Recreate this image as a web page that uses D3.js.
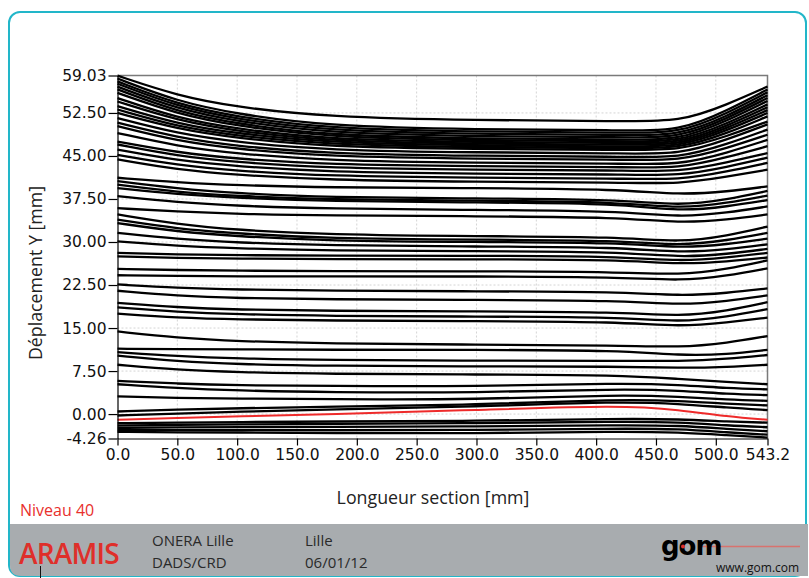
<!DOCTYPE html>
<html>
<head>
<meta charset="utf-8">
<script src="https://cdn.jsdelivr.net/npm/d3@7"></script>
<style>
  html, body { margin: 0; padding: 0; background: #ffffff; }
  svg { display: block; }
  .axis text { font-family: "DejaVu Sans", sans-serif; font-size: 15.5px; fill: #111; }
  .axis path, .axis line { stroke: #000; stroke-width: 1.2; }
</style>
</head>
<body>
<svg class="chart"></svg>
<script>
'use strict';

var CHART_WIDTH = 809;
var CHART_HEIGHT = 578;
var PLOT = { left: 117.5, right: 767.5, top: 75.5, bottom: 438.5 };

// positions along the section where each curve was read [mm]
var X_POSITIONS = [0, 50, 100, 175, 300, 420, 470, 510, 543.2];

// upper curves (top cluster)
var UPPER_CURVES = [
    [59.0, 55.5, 53.5, 51.8, 51.2, 51.1, 50.9, 54.0, 57.1],
    [58.5, 54.5, 52.3, 50.2, 49.6, 49.5, 49.3, 53.0, 56.6],
    [58.0, 54.0, 51.8, 49.8, 49.2, 49.1, 48.9, 52.5, 56.1],
    [57.6, 53.6, 51.4, 49.4, 48.8, 48.7, 48.5, 52.0, 55.6],
    [57.1, 53.2, 51.0, 49.0, 48.4, 48.3, 48.1, 51.6, 55.1],
    [56.6, 52.7, 50.6, 48.6, 48.0, 47.9, 47.7, 51.2, 54.6],
    [56.0, 52.3, 50.2, 48.3, 47.7, 47.6, 47.4, 50.7, 54.0],
    [55.1, 51.6, 49.7, 47.9, 47.4, 47.3, 47.1, 50.3, 53.5],
    [54.5, 51.2, 49.3, 47.6, 47.1, 47.0, 46.8, 49.9, 53.0],
    [53.7, 50.6, 48.9, 47.3, 46.8, 46.7, 46.5, 49.5, 52.5],
    [53.1, 50.1, 48.5, 47.0, 46.5, 46.4, 46.2, 49.0, 51.9],
    [52.5, 49.7, 48.1, 46.6, 46.2, 46.1, 45.9, 48.5, 51.0],
    [51.6, 48.9, 47.4, 46.0, 45.6, 45.5, 45.2, 47.9, 50.5],
    [50.8, 48.2, 46.7, 45.4, 45.0, 44.9, 44.6, 47.1, 49.6],
    [50.2, 47.6, 46.2, 44.9, 44.5, 44.4, 44.1, 46.4, 48.7],
    [49.0, 46.7, 45.4, 44.2, 43.8, 43.7, 43.4, 45.6, 47.8],
    [47.5, 45.6, 44.5, 43.5, 43.2, 43.1, 42.8, 44.8, 46.7],
    [47.0, 45.0, 43.9, 42.9, 42.6, 42.5, 42.2, 43.9, 45.5],
    [46.1, 44.2, 43.2, 42.2, 41.9, 41.8, 41.5, 43.1, 44.7],
    [45.2, 43.4, 42.4, 41.5, 41.2, 41.1, 40.8, 42.3, 43.8],
    [44.4, 42.6, 41.7, 40.8, 40.5, 40.4, 40.1, 41.4, 42.6]
];

// middle curves
var MIDDLE_CURVES = [
    [41.2, 40.4, 39.9, 39.5, 39.4, 39.2, 38.2, 38.8, 39.7],
    [40.6, 39.3, 38.5, 37.8, 37.6, 37.4, 36.3, 37.4, 38.9],
    [40.0, 38.7, 38.0, 37.4, 37.2, 37.0, 35.8, 36.8, 38.1],
    [39.4, 38.3, 37.7, 37.1, 36.9, 36.7, 35.3, 36.2, 37.3],
    [38.0, 36.9, 36.3, 35.8, 35.6, 35.4, 34.3, 35.1, 36.2],
    [35.9, 35.3, 34.9, 34.6, 34.5, 34.3, 33.3, 33.9, 34.8],
    [34.8, 33.1, 32.1, 31.3, 31.0, 30.9, 29.9, 31.1, 32.7],
    [33.9, 32.3, 31.5, 30.6, 30.4, 30.3, 29.3, 30.3, 31.6],
    [33.3, 31.8, 31.0, 30.2, 30.0, 29.9, 28.9, 29.6, 30.6],
    [31.6, 30.5, 29.9, 29.4, 29.2, 29.1, 28.1, 28.7, 29.6],
    [30.1, 29.3, 28.9, 28.5, 28.4, 28.3, 27.3, 27.9, 28.8],
    [28.1, 27.8, 27.7, 27.6, 27.6, 27.5, 26.6, 27.3, 28.1],
    [27.5, 27.2, 27.1, 27.0, 27.0, 26.9, 26.1, 26.6, 27.3],
    [25.3, 25.1, 25.0, 24.9, 24.9, 24.8, 24.2, 25.3, 26.8],
    [24.2, 24.1, 24.0, 24.0, 24.0, 23.9, 23.2, 24.1, 25.4],
    [22.6, 22.0, 21.7, 21.5, 21.4, 21.3, 20.6, 21.1, 21.9],
    [21.5, 20.6, 20.2, 20.0, 19.9, 19.8, 19.0, 19.7, 20.7],
    [19.4, 18.6, 18.2, 18.0, 17.9, 17.8, 17.0, 18.0, 19.5],
    [18.6, 17.8, 17.4, 17.1, 17.0, 16.9, 16.0, 17.0, 18.3],
    [17.5, 16.8, 16.5, 16.3, 16.2, 16.1, 15.2, 16.0, 16.8]
];

// lower curves (near the base)
var LOWER_CURVES = [
    [14.4, 13.3, 12.7, 12.3, 12.1, 12.0, 11.6, 12.4, 13.6],
    [11.4, 11.3, 11.3, 11.2, 11.2, 11.1, 10.2, 10.4, 11.2],
    [10.8, 10.1, 9.7, 9.4, 9.3, 9.3, 9.2, 9.6, 10.3],
    [10.2, 9.2, 8.7, 8.4, 8.3, 8.3, 8.0, 8.2, 8.6],
    [8.6, 7.7, 7.3, 7.0, 6.9, 6.8, 6.1, 5.6, 5.2],
    [5.8, 5.3, 5.0, 4.9, 4.8, 5.4, 5.1, 4.5, 4.3],
    [5.2, 4.5, 4.1, 3.8, 3.7, 4.4, 4.1, 3.5, 3.3],
    [3.1, 2.8, 2.7, 2.6, 2.5, 3.4, 3.0, 2.5, 2.3],
    [0.45, 0.8, 1.0, 1.3, 1.6, 2.6, 2.3, 1.8, 1.5],
    [-0.25, 0.1, 0.4, 0.8, 1.3, 2.2, 1.8, 1.1, 0.7],
    [-1.6, -1.5, -1.4, -1.3, -1.2, -0.8, -0.9, -1.3, -1.5],
    [-2.0, -1.9, -1.8, -1.7, -1.6, -1.3, -1.4, -2.0, -2.3],
    [-2.4, -2.3, -2.3, -2.2, -2.2, -1.9, -2.0, -2.6, -3.0],
    [-2.8, -2.8, -2.8, -2.8, -2.8, -2.5, -2.6, -3.2, -3.6],
    [-3.1, -3.2, -3.2, -3.3, -3.4, -3.0, -3.2, -3.7, -4.1]
];

// highlighted curve "Niveau 40"
var LEVEL_CURVE = [-1.0, -0.65, -0.4, -0.05, 0.7, 1.55, 0.75, -0.45, -1.0];

var X_TICKS = [0, 50, 100, 150, 200, 250, 300, 350, 400, 450, 500, 543.2];
var Y_TICKS = [-4.26, 0, 7.5, 15, 22.5, 30, 37.5, 45, 52.5, 59.03];

var svg = d3.select('.chart')
    .attr('width', CHART_WIDTH)
    .attr('height', CHART_HEIGHT);

var xScale = d3.scaleLinear().domain([0, 543.2]).range([PLOT.left, PLOT.right]);
var yScale = d3.scaleLinear().domain([-4.26, 59.03]).range([PLOT.bottom, PLOT.top]);

renderFrame(svg);
renderGrid(svg, xScale, yScale);
renderCurves(svg, xScale, yScale);
renderAxes(svg, xScale, yScale);
renderFooter(svg);

/**
 * Rounded cyan frame around the whole sheet
 */
function renderFrame(svg) {
    svg.append('rect')
        .attr('x', 9).attr('y', 12)
        .attr('width', 797).attr('height', 564)
        .attr('rx', 11).attr('ry', 11)
        .attr('fill', '#ffffff')
        .attr('stroke', '#22b6c9')
        .attr('stroke-width', 2);
}

/**
 * Dotted grid lines behind the curves
 */
function renderGrid(svg, xScale, yScale) {
    var grid = svg.append('g').attr('class', 'grid');
    grid.selectAll('line.vx')
        .data(X_TICKS.slice(1, -1))
        .enter().append('line')
        .attr('x1', function (d) { return xScale(d); })
        .attr('x2', function (d) { return xScale(d); })
        .attr('y1', PLOT.top).attr('y2', PLOT.bottom)
        .attr('stroke', '#d4d4d4').attr('stroke-dasharray', '2,2');
    grid.selectAll('line.hy')
        .data(Y_TICKS.slice(1, -1))
        .enter().append('line')
        .attr('y1', function (d) { return yScale(d); })
        .attr('y2', function (d) { return yScale(d); })
        .attr('x1', PLOT.left).attr('x2', PLOT.right)
        .attr('stroke', '#d4d4d4').attr('stroke-dasharray', '2,2');

    // top and right borders of the plot
    grid.append('path')
        .attr('d', 'M' + PLOT.left + ',' + PLOT.top + 'H' + PLOT.right + 'V' + PLOT.bottom)
        .attr('fill', 'none')
        .attr('stroke', '#7a7a7a')
        .attr('stroke-width', 1.5);
}

/**
 * Draw all section curves, then the highlighted one on top
 */
function renderCurves(svg, xScale, yScale) {
    var line = d3.line()
        .x(function (d, i) { return xScale(X_POSITIONS[i]); })
        .y(function (d) { return yScale(d); })
        .curve(d3.curveBasis);

    var curves = UPPER_CURVES.concat(MIDDLE_CURVES).concat(LOWER_CURVES);

    svg.append('g')
        .attr('class', 'curves')
        .selectAll('path')
        .data(curves)
        .enter().append('path')
        .attr('d', line)
        .attr('fill', 'none')
        .attr('stroke', '#000')
        .attr('stroke-width', 2.3);

    svg.append('path')
        .datum(LEVEL_CURVE)
        .attr('d', line)
        .attr('fill', 'none')
        .attr('stroke', '#ee2a2a')
        .attr('stroke-width', 2);
}

/**
 * Axes, tick labels and titles
 */
function renderAxes(svg, xScale, yScale) {
    var xAxis = d3.axisBottom(xScale)
        .tickValues(X_TICKS)
        .tickFormat(function (d) { return d.toFixed(1); })
        .tickSize(7)
        .tickSizeOuter(0)
        .tickPadding(3);
    var yAxis = d3.axisLeft(yScale)
        .tickValues(Y_TICKS)
        .tickFormat(function (d) { return d.toFixed(2); })
        .tickSize(9)
        .tickSizeOuter(0)
        .tickPadding(2);

    svg.append('g')
        .attr('class', 'x axis')
        .attr('transform', 'translate(0,' + PLOT.bottom + ')')
        .call(xAxis);

    svg.append('g')
        .attr('class', 'y axis')
        .attr('transform', 'translate(' + PLOT.left + ',0)')
        .call(yAxis);

    svg.append('text')
        .attr('x', 433).attr('y', 504)
        .attr('text-anchor', 'middle')
        .style('font-family', '"Open Sans", sans-serif')
        .style('font-size', '17.8px')
        .style('fill', '#222')
        .text('Longueur section [mm]');

    svg.append('text')
        .attr('transform', 'translate(42,' + 273 + ') rotate(-90)')
        .attr('text-anchor', 'middle')
        .style('font-family', '"Open Sans", sans-serif')
        .style('font-size', '17.8px')
        .style('fill', '#222')
        .text('Déplacement Y [mm]');

    svg.append('text')
        .attr('x', 20).attr('y', 516)
        .style('font-family', '"Open Sans", sans-serif')
        .style('font-size', '16px')
        .style('fill', '#e8302c')
        .text('Niveau 40');
}

/**
 * Grey footer band with project information
 */
function renderFooter(svg) {
    var footer = svg.append('g').attr('class', 'footer');

    footer.append('path')
        .attr('d', 'M10,524H808V576H21Q10,576 10,565Z')
        .attr('fill', '#a8acaf');

    footer.append('text')
        .attr('x', 19).attr('y', 564)
        .style('font-family', '"Open Sans", sans-serif')
        .style('font-size', '28px')
        .style('font-weight', '600')
        .style('letter-spacing', '-0.8px')
        .style('fill', '#df2f2a')
        .text('ARAMIS');

    footer.append('line')
        .attr('x1', 40.5).attr('x2', 40.5)
        .attr('y1', 566).attr('y2', 578)
        .attr('stroke', '#111').attr('stroke-width', 1);

    var info = [
        { x: 152, y: 546, t: 'ONERA Lille' },
        { x: 152, y: 568, t: 'DADS/CRD' },
        { x: 305, y: 546, t: 'Lille' },
        { x: 305, y: 568, t: '06/01/12' }
    ];
    footer.selectAll('text.info')
        .data(info)
        .enter().append('text')
        .attr('class', 'info')
        .attr('x', function (d) { return d.x; })
        .attr('y', function (d) { return d.y; })
        .style('font-family', '"Open Sans", sans-serif')
        .style('font-size', '15px')
        .style('fill', '#2a2a2a')
        .text(function (d) { return d.t; });

    footer.append('line')
        .attr('x1', 700).attr('x2', 800)
        .attr('y1', 546.5).attr('y2', 546.5)
        .attr('stroke', '#d8726e').attr('stroke-width', 1.5);

    footer.append('text')
        .attr('x', 661).attr('y', 555)
        .style('font-family', '"DejaVu Sans", sans-serif')
        .style('font-size', '26px')
        .style('font-weight', 'bold')
        .style('letter-spacing', '-1px')
        .style('fill', '#000')
        .text('gom');

    footer.append('circle')
        .attr('cx', 683).attr('cy', 546.5).attr('r', 2)
        .attr('fill', '#e0302a');

    footer.append('text')
        .attr('x', 716).attr('y', 572)
        .style('font-family', '"Open Sans", sans-serif')
        .style('font-size', '12px')
        .style('fill', '#111')
        .text('www.gom.com');
}
</script>
</body>
</html>
